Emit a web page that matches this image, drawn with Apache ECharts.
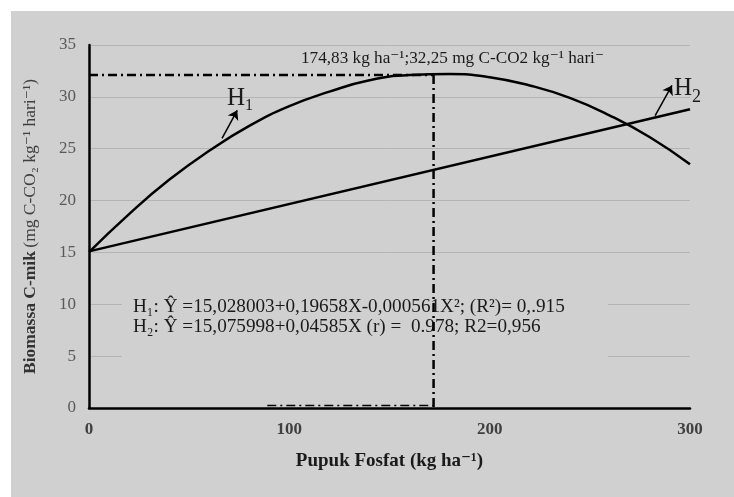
<!DOCTYPE html>
<html>
<head>
<meta charset="utf-8">
<script src="https://cdn.jsdelivr.net/npm/echarts@6/dist/echarts.min.js"></script>
<style>
  html, body { margin: 0; padding: 0; background: #fff; }
  #wrap { position: absolute; left: 11px; top: 11px; right: 0; bottom: 0; background: #d0d0d0; }
  #chart { position: absolute; left: 0; top: 0; width: 734px; height: 497px; }
</style>
</head>
<body>
<div id="wrap"></div>
<div id="chart"></div>
<script>
// dosis pupuk fosfat (kg/ha)
const xDose = [0, 20, 40, 60, 80, 100, 120, 140, 160, 180, 200, 220, 240, 260, 280, 300]
// H1 (kuadratik)
const h1Values = [15.03, 18.7, 22.0, 24.8, 27.2, 29.1, 30.5, 31.6, 32.1, 32.2, 31.9, 31.1, 29.9, 28.2, 26.1, 23.5]
// H2 (linear)
const h2X = [0, 300]
const h2Values = [15.1, 28.8]
// titik optimum
const peakX = 172
const peakY = 32.1
const yTicks = { min: 0, max: 35, interval: 5 }
const xTicks = { min: 0, max: 300, interval: 100 }

const serif = "'Liberation Serif', 'DejaVu Serif', serif"
const ink = '#1a1a1a'

const chart = echarts.init(document.getElementById('chart'), null, { renderer: 'canvas' })

const option = {
  backgroundColor: 'transparent',
  animation: false,
  grid: { left: 89, right: 44, top: 45, bottom: 89 },
  xAxis: {
    type: 'value',
    min: xTicks.min,
    max: xTicks.max,
    interval: xTicks.interval,
    name: 'Pupuk Fosfat (kg ha⁻¹)',
    nameLocation: 'middle',
    nameGap: 44,
    nameTextStyle: { fontFamily: serif, fontWeight: 'bold', fontSize: 19, color: ink },
    axisLine: { lineStyle: { color: '#000', width: 2.5 } },
    axisTick: { show: false },
    splitLine: { show: false },
    axisLabel: { fontFamily: serif, fontWeight: 'bold', fontSize: 17, color: '#404040', margin: 13 }
  },
  yAxis: {
    type: 'value',
    min: yTicks.min,
    max: yTicks.max,
    interval: yTicks.interval,
    name: '{b|Biomassa C-mik} {n|(mg C-CO₂ kg⁻¹ hari⁻¹)}',
    nameLocation: 'middle',
    nameGap: 50,
    nameTextStyle: {
      rich: {
        b: { fontFamily: serif, fontWeight: 'bold', fontSize: 17.5, color: '#333' },
        n: { fontFamily: serif, fontSize: 17.5, color: '#404040' }
      }
    },
    axisLine: { show: true, lineStyle: { color: '#000', width: 2.5 } },
    axisTick: { show: false },
    splitLine: { lineStyle: { color: '#b4b4b4', width: 1 } },
    axisLabel: { fontFamily: serif, fontSize: 17, color: '#595959', margin: 13 }
  },
  graphic: [
    // kotak persamaan menutupi garis grid
    { type: 'rect', z: 1, shape: { x: 122, y: 292, width: 486, height: 74 }, style: { fill: '#d0d0d0' } },
    {
      type: 'text', z: 1, left: 133, top: 297,
      style: {
        text: 'H₁: Ŷ =15,028003+0,19658X-0,000561X²; (R²)= 0,.915\nH₂: Ŷ =15,075998+0,04585X (r) =  0.978; R2=0,956',
        font: '19.2px ' + serif, fill: ink, lineHeight: 20
      }
    },
    {
      type: 'text', z: 3, left: 301, top: 50,
      style: { text: '174,83 kg ha⁻¹;32,25 mg C-CO2 kg⁻¹ hari⁻', font: '17.2px ' + serif, fill: ink }
    },
    {
      type: 'text', z: 3, left: 227, top: 86,
      style: {
        text: '{h|H}{s|1}',
        rich: {
          h: { font: '25px ' + serif, fill: ink, verticalAlign: 'bottom' },
          s: { font: '16px ' + serif, fill: ink, verticalAlign: 'bottom', padding: [0, 0, -3, 0] }
        }
      }
    },
    {
      type: 'text', z: 3, left: 674, top: 76,
      style: {
        text: '{h|H}{s|2}',
        rich: {
          h: { font: '25px ' + serif, fill: ink, verticalAlign: 'bottom' },
          s: { font: '18px ' + serif, fill: ink, verticalAlign: 'bottom', padding: [0, 0, -5, 0] }
        }
      }
    }
  ],
  series: [
    {
      name: 'H1',
      type: 'line',
      smooth: true,
      showSymbol: false,
      data: xDose.map((x, i) => [x, h1Values[i]]),
      lineStyle: { color: '#000', width: 2.5 }
    },
    {
      name: 'H2',
      type: 'line',
      showSymbol: false,
      data: h2X.map((x, i) => [x, h2Values[i]]),
      lineStyle: { color: '#000', width: 2.5 }
    },
    {
      name: 'peakH',
      type: 'line',
      showSymbol: false,
      data: [[0, peakY], [peakX, peakY]],
      lineStyle: { color: '#000', width: 2.5, type: [9, 4, 2, 4] }
    },
    {
      name: 'peakV',
      type: 'line',
      showSymbol: false,
      data: [[peakX, peakY], [peakX, 0]],
      lineStyle: { color: '#000', width: 2.5, type: [9, 4, 2, 4] }
    },
    {
      name: 'baseDash',
      type: 'line',
      showSymbol: false,
      data: [[89, 0.25], [peakX, 0.25]],
      lineStyle: { color: '#000', width: 1.5, type: [9, 4, 2, 4] }
    },
    {
      name: 'arrows',
      type: 'lines',
      coordinateSystem: 'cartesian2d',
      symbol: ['none', 'arrow'],
      symbolSize: 9,
      lineStyle: { color: '#000', width: 1.5, opacity: 1 },
      data: [
        { coords: [[66.4, 26.0], [74, 28.7]] },
        { coords: [[282.6, 28.2], [291, 31.1]] }
      ]
    }
  ]
}

chart.setOption(option)
</script>
</body>
</html>
